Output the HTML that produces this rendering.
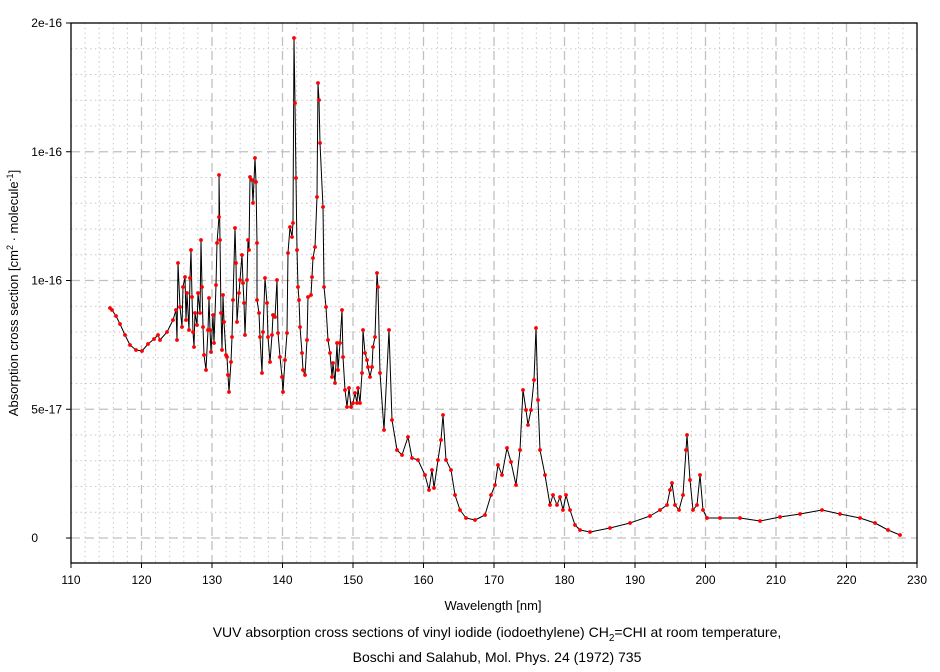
<!DOCTYPE html>
<html><head><meta charset="utf-8"><style>
body{margin:0;background:#fff;}
svg{display:block;font-family:"Liberation Sans",Arial,sans-serif;}
</style></head><body>
<svg id="s" width="940" height="672" xmlns="http://www.w3.org/2000/svg">
<g id="grid"></g>
<rect x="71" y="23" width="846" height="540" fill="none" stroke="#000" stroke-width="1.3"/>
<g id="ticks" font-size="12" fill="#000"></g>
<polyline id="line" fill="none" stroke="#000" stroke-width="1" stroke-linejoin="round"/>
<g id="dots" fill="#f00"></g>
<text x="493" y="610" font-size="13" text-anchor="middle">Wavelength [nm]</text>
<text transform="translate(18,293) rotate(-90)" font-size="13" text-anchor="middle">Absorption cross section [cm<tspan font-size="9" dy="-5">2</tspan><tspan dy="5"> · molecule</tspan><tspan font-size="9" dy="-5">-1</tspan><tspan dy="5">]</tspan></text>
<text x="497" y="637" font-size="14" text-anchor="middle">VUV absorption cross sections of vinyl iodide (iodoethylene) CH<tspan font-size="10" dy="4">2</tspan><tspan dy="-4">=CHI at room temperature,</tspan></text>
<text x="497" y="662" font-size="14" text-anchor="middle">Boschi and Salahub, Mol. Phys. 24 (1972) 735</text>
</svg>
<script>
const NS="http://www.w3.org/2000/svg";
function el(t,a,p){const e=document.createElementNS(NS,t);for(const k in a)e.setAttribute(k,a[k]);p.appendChild(e);return e;}
const g=document.getElementById('grid'),tk=document.getElementById('ticks');
const X=l=>71+(l-110)*7.05, Y=v=>538-v*25.75;
for(let l=112;l<230;l+=2){const x=X(l);const maj=(l%10===0);
 el('line',{x1:x,y1:23,x2:x,y2:563,stroke:'#c0c0c0','stroke-width':maj?1.3:1,'stroke-dasharray':maj?'9,5':'1.3,3.5'},g);}
for(let v=-0;v<20;v+=1){const y=Y(v);const maj=(v%5===0);
 el('line',{x1:71,y1:y,x2:917,y2:y,stroke:'#c0c0c0','stroke-width':maj?1.3:1,'stroke-dasharray':maj?'9,5':'1.3,3.5'},g);}
for(let l=110;l<=230;l+=10){const x=X(l);el('line',{x1:x,y1:563,x2:x,y2:568,stroke:'#000'},tk);
 const t=el('text',{x:x,y:584,'text-anchor':'middle'},tk);t.textContent=l;}
const yl=[[0,'0'],[5,'5e-17'],[10,'1e-16'],[15,'1e-16'],[20,'2e-16']];
for(const [v,s] of yl){const y=Y(v);el('line',{x1:66,y1:y,x2:71,y2:y,stroke:'#000'},tk);
 const t=el('text',{x:v===0?38:62,y:y+4,'text-anchor':'end'},tk);t.textContent=s;}
const P=[110,308,112,310,116,316,120,324,125,335,130,345,136,350,142,351,148,344,154,339,158,335,160,340,
167,332,173,320,176,310,177,340,178,263,180,307,182,327,183,287,185,277,186,320,187,293,189,330,190,278,191,250,192,297,193,332,194,347,195,313,197,325,198,293,200,313,201,240,202,287,203,327,204,355,206,370,208,330,209,298,210,330,211,352,213,315,214,343,216,285,217,243,219,217,219,175,220,240,221,313,222,350,223,295,224,322,226,355,227,357,228,375,229,392,231,362,232,337,233,300,235,228,236,263,237,322,239,293,240,280,242,255,243,283,244,303,245,335,247,280,248,240,249,250,250,177,252,180,253,203,255,158,256,182,257,243,257,300,259,313,260,337,262,373,263,332,265,278,267,303,268,337,270,362,272,335,273,315,275,317,277,280,278,333,280,357,282,377,283,392,285,360,287,333,288,253,290,227,292,237,293,223,294,38,295,103,296,178,297,250,298,287,299,300,300,327,302,353,303,370,305,375,307,340,308,297,311,295,312,277,313,258,315,247,317,197,318,83,319,100,320,143,323,207,324,287,326,307,328,340,330,353,332,377,333,363,335,383,337,343,338,370,340,343,342,310,343,357,345,390,347,407,349,388,351,407,353,403,355,393,357,403,358,388,360,403,362,373,363,330,365,353,367,360,368,367,370,377,372,367,373,347,375,337,377,273,378,287,380,373,
384,430,389,330,392,420,397,450,402,455,408,437,412,458,418,460,425,475,429,490,432,470,434,488,438,460,441,440,443,415,446,460,451,470,455,495,460,510,466,518,475,520,485,515,491,495,495,485,498,465,502,475,507,448,511,462,516,485,520,450,523,390,526,410,528,425,531,410,534,380,536,328,538,400,540,450,545,475,550,505,553,495,557,505,560,497,563,510,566,495,570,510,575,525,580,530,590,532,610,528,630,523,650,516,660,510,667,505,670,490,672,483,675,505,679,510,683,495,686,450,687,435,690,480,693,510,697,505,700,475,703,510,707,518,720,518,740,518,760,521,780,517,800,514,822,510,840,514,860,518,875,523,888,530,900,535];
let pts=[];for(let i=0;i<P.length;i+=2)pts.push(P[i]+','+P[i+1]);
document.getElementById('line').setAttribute('points',pts.join(' '));
const d=document.getElementById('dots');
for(let i=0;i<P.length;i+=2)el('circle',{cx:P[i],cy:P[i+1],r:1.9},d);
</script>
</body></html>
